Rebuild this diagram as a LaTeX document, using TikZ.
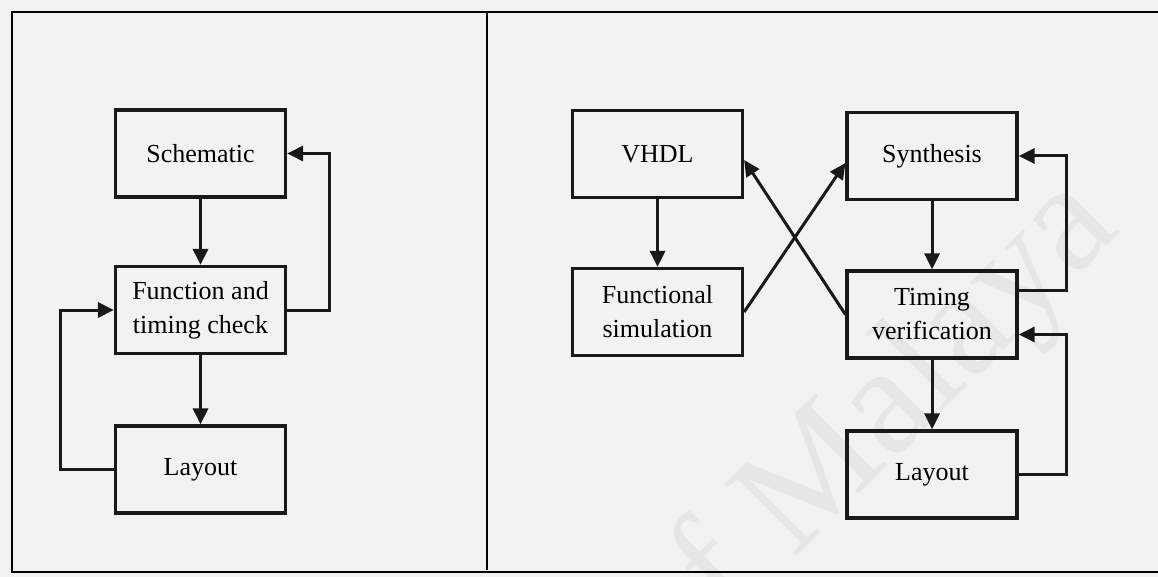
\documentclass[tikz,border=0pt]{standalone}
\usepackage{fontspec}
\setmainfont{Liberation Serif}
\usetikzlibrary{arrows.meta}
\definecolor{paper}{RGB}{242,242,241}
\definecolor{wmark}{RGB}{230,230,230}

\begin{document}
\begin{tikzpicture}[x=1pt,y=-1pt,
  box/.style={draw=black!90,line width=3.2pt,minimum width=170pt,minimum height=87pt,
    inner sep=0pt,align=center,font=\fontsize{26}{34}\selectfont},
  flow/.style={draw=black!90,line width=3pt,-{Triangle[length=16pt,width=15pt]}}]
\fill[paper] (0,0) rectangle (1158,577);
\useasboundingbox (0,0) rectangle (1158,577);
% watermark
\node[text=wmark,rotate=45,font=\fontsize{155}{155}\selectfont] (mark) at (872,428) {of Malaya};
% frame
\draw[line width=2pt] (1158,12) -- (12,12) -- (12,572) -- (1158,572);
\draw[line width=2pt] (487,12) -- (487,570);
% left flow
\node[box] (schem) at (200.5,153.5) {Schematic};
\node[box] (check) at (200.5,310) {Function and\\timing check};
\node[box] (layA) at (200.5,469.5) {Layout};
\draw[flow] (schem) -- (check);
\draw[flow] (check) -- (layA);
\draw[flow] (check.east) -- ++(42,0) |- (schem.east);
\draw[flow] (layA.west) -- ++(-53,0) |- (check.west);
% right flow
\node[box] (vhdl) at (657.5,154) {VHDL};
\node[box] (fsim) at (657.5,312) {Functional\\simulation};
\node[box] (synth) at (932,156) {Synthesis};
\node[box] (tver) at (932,314.5) {Timing\\verification};
\node[box] (layB) at (932,474.5) {Layout};
\draw[flow] (vhdl) -- (fsim);
\draw[flow] (synth) -- (tver);
\draw[flow] (tver) -- (layB);
\draw[flow] (fsim.east) -- ([yshift=-7pt]synth.west);
\draw[flow] (tver.west) -- ([yshift=-6pt]vhdl.east);
\draw[flow] ([yshift=24pt]tver.east) -| ([xshift=48pt]synth.east) -- (synth.east);
\draw[flow] (layB.east) -| ([xshift=48pt,yshift=-20pt]tver.east) -- ([yshift=-20pt]tver.east);
\end{tikzpicture}
\end{document}
